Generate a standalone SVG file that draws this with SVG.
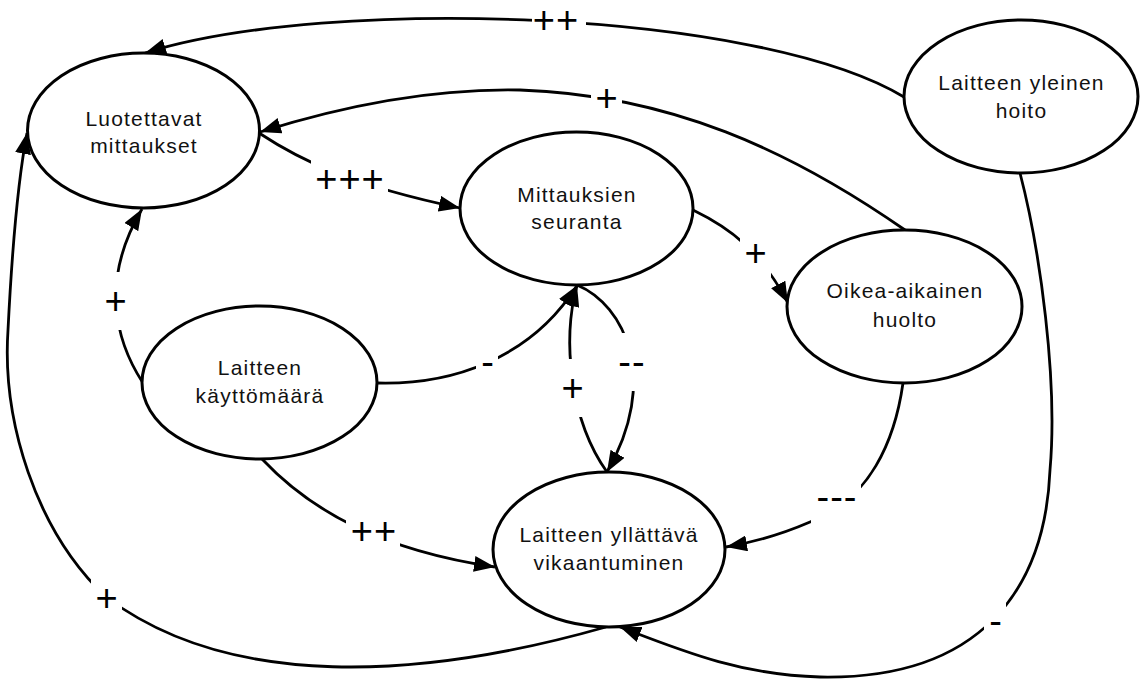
<svg xmlns="http://www.w3.org/2000/svg" width="1144" height="681" viewBox="0 0 1144 681">
  <style>
    .node ellipse { fill: #ffffff; stroke: #000000; stroke-width: 3; }
    .node text { font-family: "Liberation Sans", Arial, sans-serif; font-size: 21px; letter-spacing: 1.2px; fill: #111111; text-anchor: middle; }
    .link { fill: none; stroke: #000000; stroke-width: 2.8; marker-end: url(#arrow); }
    .tag rect { fill: #ffffff; }
    .tag text { font-family: "Liberation Sans", Arial, sans-serif; font-size: 38px; letter-spacing: 1px; fill: #000000; text-anchor: middle; }
  </style>
  <defs>
    <marker id="arrow" viewBox="0 0 21 16" refX="21" refY="8" markerWidth="21" markerHeight="16" orient="auto" markerUnits="userSpaceOnUse">
      <path d="M0,0 L21,8 L0,16 Z" fill="#000000"/>
    </marker>
  </defs>
  <rect width="1144" height="681" fill="#ffffff"/>

  <!-- causal links -->
  <g id="connectors">
    <path class="link" d="M904,97 C760,10 330,-5 145,53"/>
    <path class="link" d="M905,230 C790,150 670,95 520,90 C420,88 330,110 260,132"/>
    <path class="link" d="M259,133 C300,160 350,185 460,208"/>
    <path class="link" d="M693,210 C730,228 760,250 788,303"/>
    <path class="link" d="M143,383 C115,340 100,280 142,209"/>
    <path class="link" d="M606,627 C420,680 230,690 106,597 C35,530 2,420 8,330 C12,250 18,180 27,133"/>
    <path class="link" d="M1020,173 C1040,250 1058,380 1050,470 C1045,590 980,680 820,677 C740,675 680,650 620,627"/>
    <path class="link" d="M377,383 C450,385 530,360 577,285.5"/>
    <path class="link" d="M607,472 C570,420 562,340 577,285.5"/>
    <path class="link" d="M577,285 C625,305 660,380 607,472"/>
    <path class="link" d="M262,459 C310,510 380,550 495,567"/>
    <path class="link" d="M903,383 C895,440 870,500 810,522 C780,535 755,542 726,547"/>

    <!-- polarity labels -->
    <g class="tag"><rect x="532" y="-9" width="54" height="58"/><text x="556" y="33">++</text></g>
    <g class="tag"><rect x="591" y="69" width="31" height="58"/><text x="607" y="111">+</text></g>
    <g class="tag"><rect x="311" y="150" width="77" height="58"/><text x="350" y="192">+++</text></g>
    <g class="tag"><rect x="740" y="224" width="31" height="58"/><text x="756" y="266">+</text></g>
    <g class="tag"><rect x="100" y="272" width="31" height="58"/><text x="116" y="314">+</text></g>
    <g class="tag"><rect x="91" y="569" width="31" height="58"/><text x="107" y="611">+</text></g>
    <g class="tag"><rect x="984" y="592" width="22" height="58"/><text x="996" y="634">-</text></g>
    <g class="tag"><rect x="476" y="333" width="22" height="58"/><text x="488" y="375">-</text></g>
    <g class="tag"><rect x="557" y="359" width="31" height="58"/><text x="573" y="401">+</text></g>
    <g class="tag"><rect x="613" y="333" width="36" height="58"/><text x="632" y="375">--</text></g>
    <g class="tag"><rect x="346" y="502" width="54" height="58"/><text x="374" y="544">++</text></g>
    <g class="tag"><rect x="811" y="468" width="50" height="58"/><text x="837" y="510">---</text></g>
  </g>

  <g id="luotettavat-mittaukset" class="node">
    <ellipse cx="143.5" cy="130.5" rx="116" ry="77.5"/>
    <text x="144" y="125.5">Luotettavat</text>
    <text x="144" y="152.5">mittaukset</text>
  </g>
  <g id="mittauksien-seuranta" class="node">
    <ellipse cx="576.5" cy="208.5" rx="116.5" ry="76.5"/>
    <text x="577" y="201.5">Mittauksien</text>
    <text x="577" y="228.5">seuranta</text>
  </g>
  <g id="laitteen-yleinen-hoito" class="node">
    <ellipse cx="1021" cy="96.5" rx="117" ry="76.5"/>
    <text x="1021.5" y="90">Laitteen yleinen</text>
    <text x="1021.5" y="117.5">hoito</text>
  </g>
  <g id="laitteen-kayttomaara" class="node">
    <ellipse cx="259.5" cy="382.5" rx="117.5" ry="76.5"/>
    <text x="260" y="375">Laitteen</text>
    <text x="260" y="403">käyttömäärä</text>
  </g>
  <g id="oikea-aikainen-huolto" class="node">
    <ellipse cx="904.5" cy="306.5" rx="117.5" ry="76.5"/>
    <text x="905" y="298">Oikea-aikainen</text>
    <text x="905" y="326.5">huolto</text>
  </g>
  <g id="laitteen-yllattava-vikaantuminen" class="node">
    <ellipse cx="609" cy="549.5" rx="116" ry="77.5"/>
    <text x="609" y="541.5">Laitteen yllättävä</text>
    <text x="609" y="570">vikaantuminen</text>
  </g>
</svg>
